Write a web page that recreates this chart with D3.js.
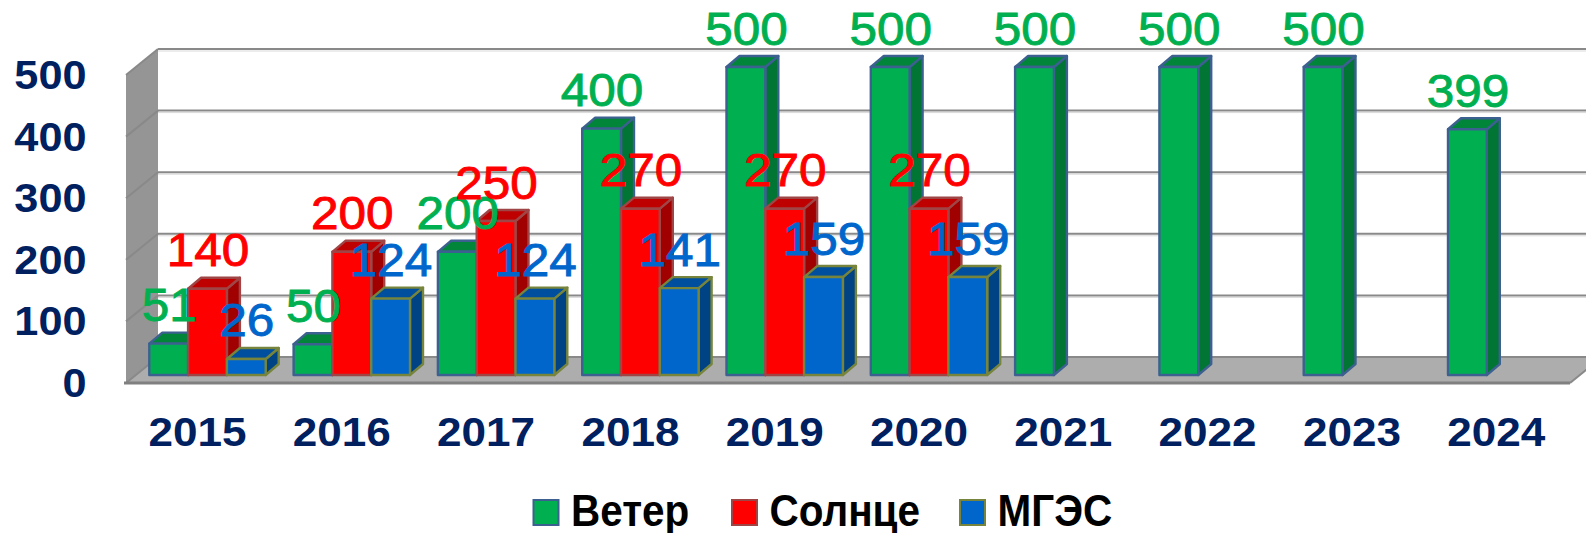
<!DOCTYPE html>
<html>
<head>
<meta charset="utf-8">
<script src="https://d3js.org/d3.v7.min.js"></script>
<style>
html, body { margin: 0; padding: 0; background: #fff; overflow: hidden; }
svg { display: block; }
</style>
</head>
<body>
<script>
var width = 1586;
var height = 533;

var years = ["2015", "2016", "2017", "2018", "2019", "2020", "2021", "2022", "2023", "2024"];
var series_names = ["Ветер", "Солнце", "МГЭС"];
var wind = [51, 50, 200, 400, 500, 500, 500, 500, 500, 399];
var sun = [140, 200, 250, 270, 270, 270, null, null, null, null];
var hydro = [26, 124, 124, 141, 159, 159, null, null, null, null];
var value_ticks = [0, 100, 200, 300, 400, 500];

var series_values = [wind, sun, hydro];
var front_colors = ["#00B050", "#FF0000", "#0066CC"];
var side_colors = ["#007534", "#A00000", "#004385"];
var top_colors = ["#008539", "#BF0000", "#004E9E"];
var edge_colors = ["#3C6090", "#A04545", "#76843C"];

// wall depth and bar depth of the fake 3d
var wall_dx = 32, wall_dy = -26;
var bar_dx = 13, bar_dy = -11;

var x0 = d3.scaleBand().domain(years).range([135.35, 1578.35]);
var x1 = d3.scaleBand().domain(series_names).range([13.95, 130.35]);
var y_bar = d3.scaleLinear().domain([0, 500]).range([375, 67]);
var y_wall = d3.scaleLinear().domain([0, 500]).range([383, 75]);

var svg = d3.select("body").append("svg")
  .attr("width", width)
  .attr("height", height);

function pts(list) {
  return list.map(function(p) { return p.join(","); }).join(" ");
}

function stretch(sel, k) {
  sel.each(function() {
    var w = this.getComputedTextLength();
    d3.select(this).attr("textLength", w * k).attr("lengthAdjust", "spacingAndGlyphs");
  });
}

var wall_left = 126, wall_right = 1570;

// left wall
svg.append("polygon")
  .attr("points", pts([
    [wall_left, y_wall(0)], [wall_left + wall_dx, y_wall(0) + wall_dy],
    [wall_left + wall_dx, y_wall(500) + wall_dy], [wall_left, y_wall(500)]
  ]))
  .attr("fill", "#959595");

// floor
svg.append("polygon")
  .attr("points", pts([
    [wall_left, y_wall(0)], [wall_right, y_wall(0)],
    [wall_right + wall_dx, y_wall(0) + wall_dy], [wall_left + wall_dx, y_wall(0) + wall_dy]
  ]))
  .attr("fill", "#ADADAD");

// gridlines, back wall then down the side wall
var grid = svg.append("g");
grid.selectAll(".shadow")
  .data(value_ticks.filter(function(d) { return d > 0; }))
  .enter().append("line")
  .attr("x1", wall_left + wall_dx).attr("x2", width)
  .attr("y1", function(d) { return y_wall(d) + wall_dy + 2; })
  .attr("y2", function(d) { return y_wall(d) + wall_dy + 2; })
  .attr("stroke", "#D9D9D9").attr("stroke-width", 1);
grid.selectAll(".back")
  .data(value_ticks)
  .enter().append("line")
  .attr("x1", wall_left + wall_dx).attr("x2", width)
  .attr("y1", function(d) { return y_wall(d) + wall_dy; })
  .attr("y2", function(d) { return y_wall(d) + wall_dy; })
  .attr("stroke", "#898989").attr("stroke-width", 2);
grid.selectAll(".side")
  .data(value_ticks)
  .enter().append("line")
  .attr("x1", wall_left).attr("x2", wall_left + wall_dx)
  .attr("y1", function(d) { return y_wall(d); })
  .attr("y2", function(d) { return y_wall(d) + wall_dy; })
  .attr("stroke", "#898989").attr("stroke-width", 2);

// front edge of the floor
svg.append("line")
  .attr("x1", wall_left - 2).attr("x2", wall_right)
  .attr("y1", y_wall(0)).attr("y2", y_wall(0))
  .attr("stroke", "#808080").attr("stroke-width", 3);
svg.append("line")
  .attr("x1", wall_right).attr("x2", wall_right + wall_dx)
  .attr("y1", y_wall(0)).attr("y2", y_wall(0) + wall_dy)
  .attr("stroke", "#898989").attr("stroke-width", 2);

// bars, left to right so each one covers the side of the one before
var bars = svg.append("g");
years.forEach(function(year, i) {
  series_names.forEach(function(name, s) {
    var v = series_values[s][i];
    if (v === null) return;
    var left = x0(year) + x1(name);
    var right = left + x1.bandwidth();
    var top = y_bar(v);
    var base = y_bar(0);
    var g = bars.append("g")
      .attr("stroke", edge_colors[s])
      .attr("stroke-width", 2.4)
      .attr("stroke-linejoin", "round");
    g.append("polygon")
      .attr("points", pts([[right, base], [right + bar_dx, base + bar_dy], [right + bar_dx, top + bar_dy], [right, top]]))
      .attr("fill", side_colors[s]);
    g.append("polygon")
      .attr("points", pts([[left, top], [right, top], [right + bar_dx, top + bar_dy], [left + bar_dx, top + bar_dy]]))
      .attr("fill", top_colors[s]);
    g.append("rect")
      .attr("x", left).attr("y", top)
      .attr("width", x1.bandwidth()).attr("height", base - top)
      .attr("fill", front_colors[s]);
  });
});

// data labels go over all the bars, thin stroke to get the weight of the original
var labels = svg.append("g")
  .attr("font-family", "'Liberation Sans', Arial, sans-serif")
  .attr("font-size", 46)
  .attr("stroke-width", 0.9)
  .attr("text-anchor", "middle");
series_names.forEach(function(name, s) {
  years.forEach(function(year, i) {
    var v = series_values[s][i];
    if (v === null) return;
    labels.append("text")
      .attr("x", x0(year) + x1(name) + x1.bandwidth() / 2 + 0.5)
      .attr("y", y_bar(v) - 22.5)
      .attr("fill", front_colors[s])
      .attr("stroke", front_colors[s])
      .text(v);
  });
});
stretch(labels.selectAll("text"), 1.075);

// axes
var y_axis = svg.append("g")
  .attr("transform", "translate(94.5,0)")
  .call(d3.axisLeft(y_wall).tickValues(value_ticks).tickSize(0).tickPadding(8));
var x_axis = svg.append("g")
  .attr("transform", "translate(-10,414)")
  .call(d3.axisBottom(x0).tickSize(0).tickPadding(0));
[y_axis, x_axis].forEach(function(a) {
  a.select(".domain").remove();
  a.selectAll("text")
    .attr("font-family", "'Liberation Sans', Arial, sans-serif")
    .attr("font-weight", "bold")
    .attr("font-size", 41)
    .attr("fill", "#002060");
});
y_axis.selectAll("text").attr("dy", 13.5);
x_axis.selectAll("text").attr("y", 0).attr("dy", 31.5);
stretch(y_axis.selectAll("text"), 1.055);
stretch(x_axis.selectAll("text"), 1.075);

// legend
var legend_swatch = [533.5, 732, 960];
var legend = svg.append("g");
series_names.forEach(function(name, s) {
  legend.append("rect")
    .attr("x", legend_swatch[s]).attr("y", 500)
    .attr("width", 25).attr("height", 25)
    .attr("fill", front_colors[s])
    .attr("stroke", edge_colors[s])
    .attr("stroke-width", 2);
  var t = legend.append("text")
    .attr("x", legend_swatch[s] + 37.5)
    .attr("y", 526)
    .attr("font-family", "'Liberation Sans', sans-serif")
    .attr("font-weight", "bold")
    .attr("font-size", 44)
    .attr("fill", "#000")
    .text(name);
  stretch(t, 0.92);
});
</script>
</body>
</html>
